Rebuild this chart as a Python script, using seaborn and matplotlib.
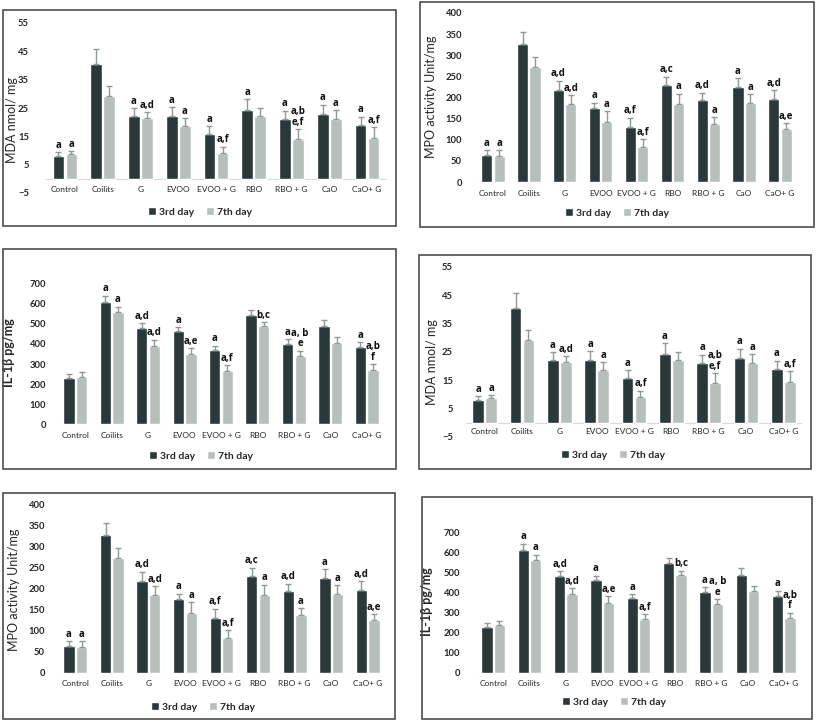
import numpy as np
import pandas as pd
import matplotlib
matplotlib.use("Agg")
import matplotlib.pyplot as plt
from matplotlib.patches import Rectangle
import seaborn as sns

sns.set_style("white")
plt.rcParams["font.family"] = ["Lato", "DejaVu Sans"]

# ----------------------
# Data
# ----------------------
groups = ["Control", "Coilits", "G", "EVOO", "EVOO + G", "RBO", "RBO + G", "CaO", "CaO+ G"]
days = ["3rd day", "7th day"]

mda_3rd = [8.0, 40.7, 22.2, 22.1, 15.9, 24.4, 21.2, 22.9, 18.9]
mda_3rd_sd = [1.3, 5.2, 2.8, 3.1, 2.6, 3.7, 2.9, 3.2, 3.0]
mda_7th = [8.7, 29.2, 21.3, 18.8, 9.1, 22.2, 14.2, 21.2, 14.5]
mda_7th_sd = [1.0, 3.7, 2.2, 2.7, 2.3, 2.8, 3.4, 3.1, 3.7]
mda_3rd_sig = ["a", "", "a", "a", "a", "a", "a", "a", "a"]
mda_7th_sig = ["a", "", "a,d", "a", "a,f", "", "a,b\ne,f", "a", "a,f"]

mpo_3rd = [63, 327, 218, 175, 129, 230, 193, 226, 196]
mpo_3rd_sd = [12, 27, 22, 13, 23, 19, 18, 19, 21]
mpo_7th = [61, 272, 185, 141, 84, 185, 138, 187, 125]
mpo_7th_sd = [14, 24, 21, 26, 17, 24, 16, 21, 14]
mpo_3rd_sig = ["a", "", "a,d", "a", "a,f", "a,c", "a,d", "a", "a,d"]
mpo_7th_sig = ["a", "", "a,d", "a", "a,f", "a", "a", "a", "a,e"]

il_3rd = [230, 612, 480, 463, 372, 547, 402, 488, 383]
il_3rd_sd = [20, 30, 25, 20, 20, 25, 23, 34, 25]
il_7th = [237, 562, 392, 350, 267, 488, 342, 405, 272]
il_7th_sd = [23, 25, 30, 30, 26, 20, 25, 28, 28]
il_3rd_sig = ["", "a", "a,d", "a", "a", "", "a", "", "a"]
il_7th_sig = ["", "a", "a,d", "a,e", "a,f", "b,c", "a, b\ne", "", "a,b\nf"]

metrics = {
    "MDA": dict(vals=[mda_3rd, mda_7th], sd=[mda_3rd_sd, mda_7th_sd], sig=[mda_3rd_sig, mda_7th_sig],
                ylim=(-5, 55), ticks=np.arange(-5, 56, 10), ylabel="MDA nmol/ mg", bold=False),
    "MPO": dict(vals=[mpo_3rd, mpo_7th], sd=[mpo_3rd_sd, mpo_7th_sd], sig=[mpo_3rd_sig, mpo_7th_sig],
                ylim=(0, 400), ticks=np.arange(0, 401, 50), ylabel="MPO activity Unit/mg", bold=False),
    "IL": dict(vals=[il_3rd, il_7th], sd=[il_3rd_sd, il_7th_sd], sig=[il_3rd_sig, il_7th_sig],
               ylim=(0, 700), ticks=np.arange(0, 701, 100), ylabel="IL-1β pg/mg", bold=True),
}

# ----------------------
# Layout (pixels): panel box, axes box, y-label centre, legend centre, tick label centre
# ----------------------
W, H = 817, 721
panels = [
    dict(key="MDA", box=(3, 10, 396, 226), ax=(46, 23, 386, 193), lab=(18, 120), leg=(200, 212), xl=190, yp=17),
    dict(key="MPO", box=(420, 2, 814, 227), ax=(475, 13, 798, 182), lab=(437, 97), leg=(617, 213), xl=193, yp=13),
    dict(key="IL", box=(3, 249, 396, 469), ax=(57, 284, 385, 424), lab=(15, 353), leg=(201, 456), xl=435, yp=11),
    dict(key="MDA", box=(419, 255, 811, 469), ax=(466, 267, 802, 437), lab=(438, 362), leg=(613, 455), xl=432, yp=13),
    dict(key="MPO", box=(3, 493, 395, 719), ax=(57, 504, 386, 673), lab=(20, 590), leg=(203, 707), xl=684, yp=12),
    dict(key="IL", box=(422, 497, 812, 719), ax=(475, 532, 802, 673), lab=(433, 602), leg=(614, 702), xl=683, yp=15),
]

dark = "#263a3c"
light = "#b4c0bd"
err_color = "#8e9a98"

fig = plt.figure(figsize=(W / 100, H / 100), dpi=100)

for p in panels:
    m = metrics[p["key"]]
    bx0, by0, bx1, by1 = p["box"]
    fig.add_artist(Rectangle((bx0 / W, 1 - by1 / H), (bx1 - bx0) / W, (by1 - by0) / H,
                             transform=fig.transFigure, fill=False, edgecolor="#4d4d4d", lw=1.2))

    x0, y0, x1, y1 = p["ax"]
    ax = fig.add_axes([x0 / W, 1 - y1 / H, (x1 - x0) / W, (y1 - y0) / H])

    df = pd.DataFrame({
        "group": groups * 2,
        "day": [days[0]] * len(groups) + [days[1]] * len(groups),
        "value": m["vals"][0] + m["vals"][1],
    })
    sns.barplot(data=df, x="group", y="value", hue="day", palette=[dark, light],
                width=0.69, gap=0.1, errorbar=None, ax=ax)

    bar_sets = list(ax.containers)[:2]
    for k, bars in enumerate(bar_sets):
        xs = [b.get_x() + b.get_width() / 2 for b in bars]
        hs = [b.get_height() for b in bars]
        sd = m["sd"][k]
        ax.errorbar(xs, hs, yerr=[np.zeros(len(sd)), sd], fmt="none", ecolor=err_color,
                    elinewidth=1.0, capsize=2.5, capthick=1.0)
        for xi, hi, si, txt in zip(xs, hs, sd, m["sig"][k]):
            if txt:
                ax.annotate(txt, (xi, hi + si), xytext=(0, 1), textcoords="offset points",
                            ha="center", va="bottom", fontsize=7, fontweight="bold",
                            family=["Open Sans", "DejaVu Sans"],
                            linespacing=0.95, color="#111111")

    ax.set_ylim(*m["ylim"])
    ax.set_yticks(m["ticks"])
    ax.set_xlim(-0.5, len(groups) - 0.5)
    ax.axhline(0, color="#d9d9d9", lw=0.8, zorder=0)
    sns.despine(ax=ax, left=True, bottom=True)

    # tick labels
    pad_x = (p["xl"] - y1 - 3.5) * 0.72
    ax.tick_params(axis="x", length=0, pad=pad_x, labelsize=6)
    ax.tick_params(axis="y", length=0, pad=p["yp"] * 0.72, labelsize=6.8)
    for t in ax.get_yticklabels():
        t.set_fontweight("bold")
    ax.set_xlabel("")

    ax.set_ylabel(m["ylabel"], fontsize=9, fontweight="bold" if m["bold"] else "normal")
    lx, ly = p["lab"]
    ax.yaxis.set_label_coords((lx - x0) / (x1 - x0), (y1 - ly) / (y1 - y0))

    handles, labels = ax.get_legend_handles_labels()
    ax.get_legend().remove()
    lgx, lgy = p["leg"]
    fig.legend(handles, labels, loc="center", bbox_to_anchor=(lgx / W, 1 - lgy / H),
               ncol=2, frameon=False, handlelength=0.75, handleheight=0.75, handletextpad=0.3,
               columnspacing=1.2, prop={"size": 7.5, "weight": "bold"})

fig.savefig("out.png", dpi=100)
